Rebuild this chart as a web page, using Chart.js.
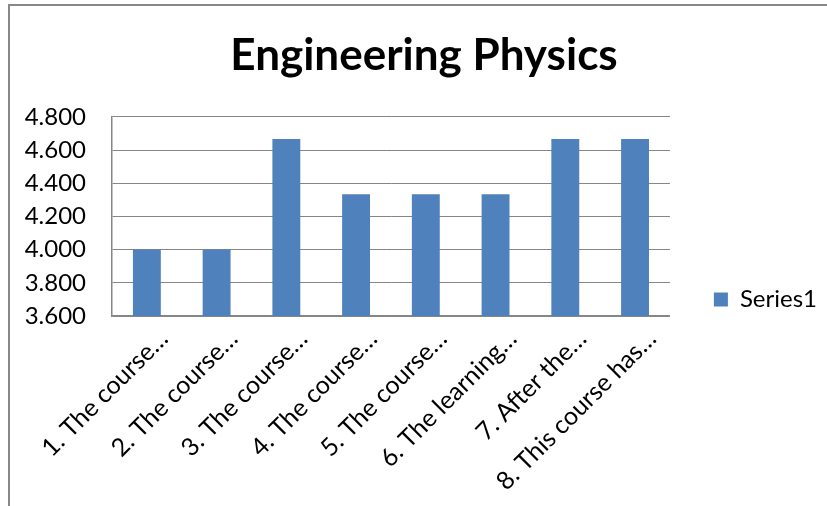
<!DOCTYPE html>
<html>
<head>
<meta charset="utf-8">
<script src="https://cdn.jsdelivr.net/npm/chart.js@4"></script>
<style>
  html, body { margin: 0; padding: 0; background: #fff; }
  #wrap { position: relative; width: 827px; height: 506px; }
  #frame { position: absolute; left: 8px; top: 4px; right: 0; bottom: 0;
           border-left: 2px solid #888; border-top: 2px solid #888; }
  #myChart { position: absolute; left: 0; top: 0; }
</style>
</head>
<body>
<div id="wrap">
  <div id="frame"></div>
  <canvas id="myChart" width="827" height="506"></canvas>
</div>
<script>
const titleText = "Engineering Physics";
const categories = [
  "1. The course…",
  "2. The course…",
  "3. The course…",
  "4. The course…",
  "5. The course…",
  "6. The learning…",
  "7. After the…",
  "8. This course has…"
];
const series1 = [4.000, 4.000, 4.667, 4.333, 4.333, 4.333, 4.667, 4.667];
const yMin = 3.6;
const yMax = 4.8;
const yStep = 0.2;

const fontFamily = "Lato, 'Open Sans', sans-serif";

new Chart(document.getElementById("myChart"), {
  type: "bar",
  data: {
    labels: categories,
    datasets: [
      {
        label: "Series1",
        data: series1,
        backgroundColor: "#4F81BD",
        borderWidth: 0,
        barPercentage: 0.4,
        categoryPercentage: 1.0,
      },
    ],
  },
  options: {
    responsive: false,
    animation: false,
    devicePixelRatio: 1,
    layout: {
      padding: { left: 21, right: 0, top: 0, bottom: 0 },
    },
    plugins: {
      title: {
        display: true,
        text: titleText,
        color: "#000",
        font: { family: fontFamily, size: 44, weight: "bold" },
        padding: { top: 29, bottom: 35 },
      },
      legend: {
        position: "right",
        align: "center",
        title: {
          display: true,
          text: "",
          font: { size: 10 },
          padding: { top: 0, bottom: 81 },
        },
        labels: {
          color: "#000",
          font: { family: fontFamily, size: 24 },
          boxWidth: 14,
          boxHeight: 14,
          padding: 44,
        },
      },
      tooltip: { enabled: false },
    },
    scales: {
      x: {
        grid: { display: false, drawTicks: false },
        border: { display: true, color: "#868686", width: 1.5 },
        ticks: {
          color: "#000",
          font: { family: fontFamily, size: 25 },
          minRotation: 45,
          maxRotation: 45,
          autoSkip: false,
          padding: 8,
          labelOffset: 17,
        },
        afterFit(scale) {
          scale.height = 190;
        },
      },
      y: {
        min: yMin,
        max: yMax,
        grid: { color: "#868686", lineWidth: 1, drawTicks: false },
        border: { display: true, color: "#868686", width: 1.5 },
        ticks: {
          stepSize: yStep,
          color: "#000",
          font: { family: fontFamily, size: 24 },
          padding: 26,
          callback: (v) => Number(v).toFixed(3),
        },
        afterFit(scale) {
          scale.width = 91;
        },
      },
    },
  },
});
</script>
</body>
</html>
